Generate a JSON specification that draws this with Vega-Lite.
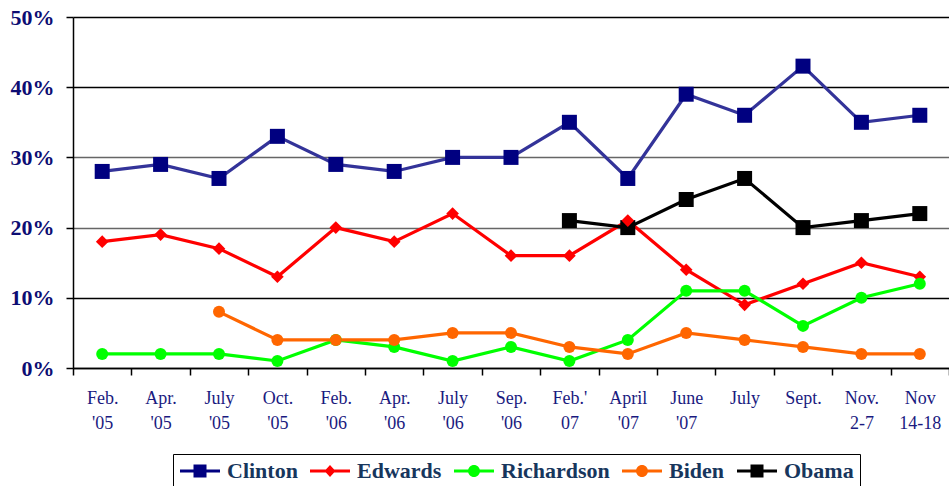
{
  "$schema": "https://vega.github.io/schema/vega-lite/v6.json",
  "width": 876,
  "height": 351,
  "autosize": "none",
  "padding": {"left": 73, "top": 17, "right": 0, "bottom": 118},
  "config": {
    "view": {"stroke": null},
    "font": "Liberation Serif",
    "legend": {
      "symbolStrokeWidth": 0,
      "symbolSize": 400,
      "labelOffset": 26,
      "columnPadding": 11,
      "padding": 6,
      "strokeColor": "#000000",
      "labelFont": "Liberation Serif",
      "labelFontSize": 22,
      "labelFontWeight": "bold",
      "labelColor": "#17365D"
    }
  },
  "datasets": {
    "polls": [
      {"date": "Feb. '05", "cand": "Clinton", "v": 28},
      {"date": "Apr. '05", "cand": "Clinton", "v": 29},
      {"date": "July '05", "cand": "Clinton", "v": 27},
      {"date": "Oct. '05", "cand": "Clinton", "v": 33},
      {"date": "Feb. '06", "cand": "Clinton", "v": 29},
      {"date": "Apr. '06", "cand": "Clinton", "v": 28},
      {"date": "July '06", "cand": "Clinton", "v": 30},
      {"date": "Sep. '06", "cand": "Clinton", "v": 30},
      {"date": "Feb.' 07", "cand": "Clinton", "v": 35},
      {"date": "April '07", "cand": "Clinton", "v": 27},
      {"date": "June '07", "cand": "Clinton", "v": 39},
      {"date": "July", "cand": "Clinton", "v": 36},
      {"date": "Sept.", "cand": "Clinton", "v": 43},
      {"date": "Nov. 2-7", "cand": "Clinton", "v": 35},
      {"date": "Nov 14-18", "cand": "Clinton", "v": 36},
      {"date": "Feb. '05", "cand": "Edwards", "v": 18},
      {"date": "Apr. '05", "cand": "Edwards", "v": 19},
      {"date": "July '05", "cand": "Edwards", "v": 17},
      {"date": "Oct. '05", "cand": "Edwards", "v": 13},
      {"date": "Feb. '06", "cand": "Edwards", "v": 20},
      {"date": "Apr. '06", "cand": "Edwards", "v": 18},
      {"date": "July '06", "cand": "Edwards", "v": 22},
      {"date": "Sep. '06", "cand": "Edwards", "v": 16},
      {"date": "Feb.' 07", "cand": "Edwards", "v": 16},
      {"date": "April '07", "cand": "Edwards", "v": 21},
      {"date": "June '07", "cand": "Edwards", "v": 14},
      {"date": "July", "cand": "Edwards", "v": 9},
      {"date": "Sept.", "cand": "Edwards", "v": 12},
      {"date": "Nov. 2-7", "cand": "Edwards", "v": 15},
      {"date": "Nov 14-18", "cand": "Edwards", "v": 13},
      {"date": "Feb. '05", "cand": "Richardson", "v": 2},
      {"date": "Apr. '05", "cand": "Richardson", "v": 2},
      {"date": "July '05", "cand": "Richardson", "v": 2},
      {"date": "Oct. '05", "cand": "Richardson", "v": 1},
      {"date": "Feb. '06", "cand": "Richardson", "v": 4},
      {"date": "Apr. '06", "cand": "Richardson", "v": 3},
      {"date": "July '06", "cand": "Richardson", "v": 1},
      {"date": "Sep. '06", "cand": "Richardson", "v": 3},
      {"date": "Feb.' 07", "cand": "Richardson", "v": 1},
      {"date": "April '07", "cand": "Richardson", "v": 4},
      {"date": "June '07", "cand": "Richardson", "v": 11},
      {"date": "July", "cand": "Richardson", "v": 11},
      {"date": "Sept.", "cand": "Richardson", "v": 6},
      {"date": "Nov. 2-7", "cand": "Richardson", "v": 10},
      {"date": "Nov 14-18", "cand": "Richardson", "v": 12},
      {"date": "July '05", "cand": "Biden", "v": 8},
      {"date": "Oct. '05", "cand": "Biden", "v": 4},
      {"date": "Feb. '06", "cand": "Biden", "v": 4},
      {"date": "Apr. '06", "cand": "Biden", "v": 4},
      {"date": "July '06", "cand": "Biden", "v": 5},
      {"date": "Sep. '06", "cand": "Biden", "v": 5},
      {"date": "Feb.' 07", "cand": "Biden", "v": 3},
      {"date": "April '07", "cand": "Biden", "v": 2},
      {"date": "June '07", "cand": "Biden", "v": 5},
      {"date": "July", "cand": "Biden", "v": 4},
      {"date": "Sept.", "cand": "Biden", "v": 3},
      {"date": "Nov. 2-7", "cand": "Biden", "v": 2},
      {"date": "Nov 14-18", "cand": "Biden", "v": 2},
      {"date": "Feb.' 07", "cand": "Obama", "v": 21},
      {"date": "April '07", "cand": "Obama", "v": 20},
      {"date": "June '07", "cand": "Obama", "v": 24},
      {"date": "July", "cand": "Obama", "v": 27},
      {"date": "Sept.", "cand": "Obama", "v": 20},
      {"date": "Nov. 2-7", "cand": "Obama", "v": 21},
      {"date": "Nov 14-18", "cand": "Obama", "v": 22}
    ]
  },
  "data": {"name": "polls"},
  "encoding": {
    "x": {
      "field": "date",
      "type": "nominal",
      "sort": ["Feb. '05", "Apr. '05", "July '05", "Oct. '05", "Feb. '06", "Apr. '06", "July '06", "Sep. '06", "Feb.' 07", "April '07", "June '07", "July", "Sept.", "Nov. 2-7", "Nov 14-18"],
      "bandPosition": 0.5,
      "scale": {"type": "band", "paddingInner": 0, "paddingOuter": 0},
      "axis": {
        "title": null,
        "labelAngle": 0,
        "labelExpr": "split(datum.label, ' ')",
        "labelFont": "Liberation Serif",
        "labelFontSize": 18,
        "labelColor": "#1A1A80",
        "labelLineHeight": 25,
        "labelPadding": 14,
        "tickSize": 7,
        "tickColor": "#000000",
        "tickWidth": 1.5,
        "domainColor": "#000000",
        "domainWidth": 1.5,
        "tickBand": "extent",
        "grid": false
      }
    },
    "y": {
      "field": "v",
      "type": "quantitative",
      "scale": {"domain": [0, 50]},
      "axis": {
        "title": null,
        "values": [0, 10, 20, 30, 40, 50],
        "labelExpr": "datum.value + '%'",
        "grid": true,
        "gridColor": {"condition": {"test": "datum.value == 20 || datum.value == 30", "value": "#666666"}, "value": "#000000"},
        "gridWidth": 1.5,
        "domainColor": "#000000",
        "domainWidth": 1.5,
        "tickColor": "#000000",
        "tickWidth": 1.5,
        "tickSize": 7,
        "labelFont": "Liberation Serif",
        "labelFontSize": 22,
        "labelFontWeight": "bold",
        "labelColor": "#0D0D73",
        "labelPadding": 12
      }
    }
  },
  "layer": [
    {
      "mark": {"type": "line", "strokeWidth": 3.2},
      "encoding": {
        "stroke": {
          "field": "cand",
          "type": "nominal",
          "scale": {"domain": ["Clinton", "Edwards", "Richardson", "Biden", "Obama"], "range": ["#333399", "#FF0000", "#00FF00", "#FF6600", "#000000"]},
          "legend": {"orient": "none", "legendX": 100, "legendY": 437, "direction": "horizontal", "title": null}
        }
      }
    },
    {
      "transform": [{"filter": "datum.cand === 'Clinton' || datum.cand === 'Obama'"}],
      "mark": {"type": "point", "shape": "square", "size": 225, "filled": true, "opacity": 1, "strokeWidth": 0},
      "encoding": {
        "fill": {
          "field": "cand",
          "type": "nominal",
          "scale": {"domain": ["Clinton", "Edwards", "Richardson", "Biden", "Obama"], "range": ["#000080", "#FF0000", "#00FF00", "#FF6600", "#000000"]},
          "legend": {"orient": "none", "legendX": 100, "legendY": 437, "direction": "horizontal", "title": null}
        }
      }
    },
    {
      "transform": [{"filter": "datum.cand === 'Edwards'"}],
      "mark": {"type": "point", "shape": "diamond", "size": 160, "filled": true, "opacity": 1, "strokeWidth": 0},
      "encoding": {
        "fill": {
          "field": "cand",
          "type": "nominal",
          "legend": {"orient": "none", "legendX": 100, "legendY": 437, "direction": "horizontal", "title": null}
        }
      }
    },
    {
      "transform": [{"filter": "datum.cand === 'Richardson' || datum.cand === 'Biden'"}],
      "mark": {"type": "point", "shape": "circle", "size": 144, "filled": true, "opacity": 1, "strokeWidth": 0},
      "encoding": {
        "fill": {
          "field": "cand",
          "type": "nominal",
          "legend": {"orient": "none", "legendX": 100, "legendY": 437, "direction": "horizontal", "title": null}
        }
      }
    },
    {
      "transform": [{"filter": "datum.v < 0"}],
      "mark": {"type": "point", "filled": true, "opacity": 1, "strokeWidth": 0},
      "encoding": {
        "fill": {
          "field": "cand",
          "type": "nominal",
          "legend": {"orient": "none", "legendX": 100, "legendY": 437, "direction": "horizontal", "title": null}
        },
        "shape": {
          "field": "cand",
          "type": "nominal",
          "scale": {
            "domain": ["Clinton", "Edwards", "Richardson", "Biden", "Obama"],
            "range": [
              "M-1,-0.15H3V0.15H-1Z M0.35,-0.65H1.65V0.65H0.35Z",
              "M-1,-0.15H3V0.15H-1Z M1,-0.6L1.55,0L1,0.6L0.45,0Z",
              "M-1,-0.15H3V0.15H-1Z M0.4,0A0.6,0.6,0,0,1,1.6,0A0.6,0.6,0,0,1,0.4,0Z",
              "M-1,-0.15H3V0.15H-1Z M0.4,0A0.6,0.6,0,0,1,1.6,0A0.6,0.6,0,0,1,0.4,0Z",
              "M-1,-0.15H3V0.15H-1Z M0.35,-0.65H1.65V0.65H0.35Z"
            ]
          },
          "legend": {"orient": "none", "legendX": 100, "legendY": 437, "direction": "horizontal", "title": null}
        }
      }
    }
  ]
}
